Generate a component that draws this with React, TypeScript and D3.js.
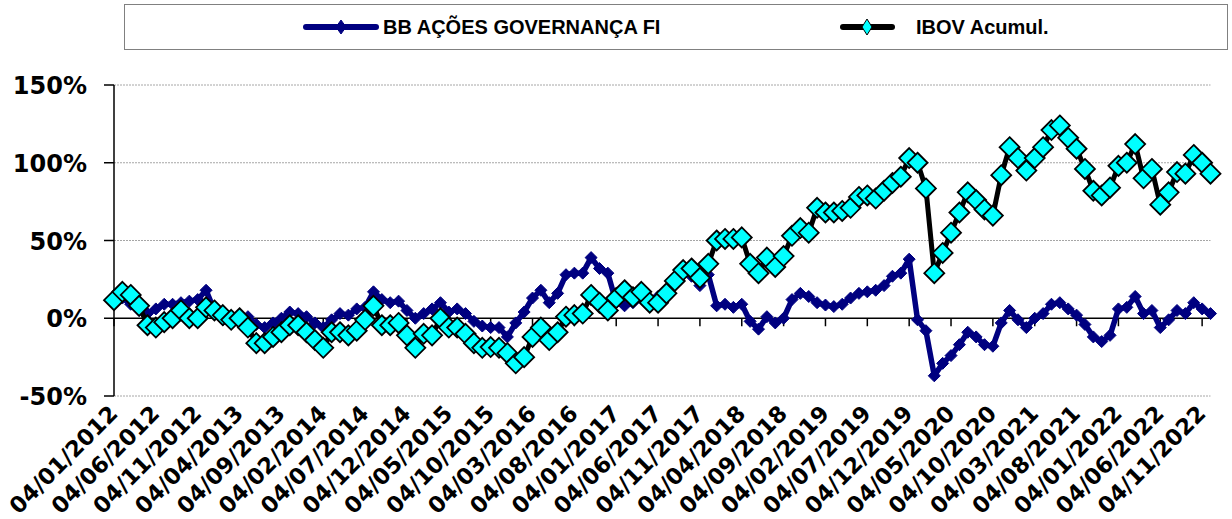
import React from 'react';
import * as d3 from 'd3';

// monthly categories, 04/01/2012 .. 04/12/2022
const categories = d3.range(132).map(i => d3.timeFormat('%d/%m/%Y')(new Date(2012, i, 4)));

const tickLabels = [
  '04/01/2012', '04/06/2012', '04/11/2012', '04/04/2013', '04/09/2013', '04/02/2014',
  '04/07/2014', '04/12/2014', '04/05/2015', '04/10/2015', '04/03/2016', '04/08/2016',
  '04/01/2017', '04/06/2017', '04/11/2017', '04/04/2018', '04/09/2018', '04/02/2019',
  '04/07/2019', '04/12/2019', '04/05/2020', '04/10/2020', '04/03/2021', '04/08/2021',
  '04/01/2022', '04/06/2022', '04/11/2022',
];

const yTicks = [150, 100, 50, 0, -50];

const seriesNames = ['BB AÇÕES GOVERNANÇA FI', 'IBOV Acumul.'];

// BB AÇÕES GOVERNANÇA FI (%)
const bbValues = [
  10, 13, 9, 5, 3, 6, 9, 9, 10, 11, 12, 18, 5, -1, -3, 0, 1, -4, -6, -3,
  0, 4, 3, 1, -3, -6, -1, 3, 2, 6, 7, 17, 12, 10, 11, 5, 0, 3, 6, 10,
  4, 6, 3, -2, -5, -6, -6, -12, -3, 4, 13, 18, 10, 16, 28, 29, 29, 39, 32, 29,
  10, 8, 10, 13, 11, 14, 18, 25, 30, 27, 21, 28, 8, 9, 7, 9, -2, -7, 1, -3,
  0, 12, 16, 14, 10, 8.5, 7.5, 9, 13, 16, 17, 18, 21, 27, 29, 38, -1, -8, -37, -29,
  -24, -17, -9, -12, -17, -18, -3, 5, -1, -6, 0, 3, 9, 10, 6, 2, -4, -12, -15, -11,
  6, 7, 14, 3, 5, -6, -1, 5, 3, 10, 6, 3,
];

// IBOV Acumul. (%)
const ibovValues = [
  11.6, 17, 15, 8, -4.5, -6, -2.5, 0, 5, 0, 0, 7, 5, 2, -1, 0, -6, -16, -16, -12,
  -9, -4.5, -4.5, -9, -14, -19, -9, -9, -11, -8, -1, 8, -4.5, -4.5, -3, -11, -19, -10, -11, 0,
  -6, -6, -10, -16, -19, -18.5, -19, -22.5, -29, -25, -12, -6, -14, -9, 1, 2, 3, 15, 10, 5,
  13, 18, 13.5, 17, 10, 10, 16, 24, 31, 32, 26, 35, 50, 51, 51, 52, 35, 29, 39, 33,
  40, 53, 58, 55, 71, 68, 68, 69, 71, 78, 79, 77, 82, 87, 91, 103, 100, 83.5, 29, 42,
  55, 68, 81, 76, 70, 66, 92, 110, 103, 95, 103, 110, 121, 124, 116, 109, 96, 82, 79, 84,
  98, 100, 112, 90, 96, 73, 81, 94, 93, 105, 100, 93,
];

const diamond = (r: number, rv = r) => `M0,${-rv}L${r},0L0,${rv}L${-r},0Z`;

export default function App() {
  const left = 114, right = 1210.5, top = 85, bottom = 396;

  const x = d3.scalePoint<string>().domain(categories).range([left, right]);
  const y = d3.scaleLinear().domain([-50, 150]).range([bottom, top]);

  const line = d3.line<number>()
    .x((_, i) => x(categories[i]) as number)
    .y(d => y(d));

  const axisFont = 'DejaVu Sans, Verdana, sans-serif';
  const legendFont = 'Liberation Sans, Arial, sans-serif';

  return (
    <svg width={1232} height={519} style={{ position: 'absolute', left: 0, top: 0, background: '#fff' }}>
      {/* legend */}
      <rect x={124.5} y={4.5} width={1103} height={45} fill="#fff" stroke="#808080" strokeWidth={1} />
      <g>
        <line x1={306} x2={376} y1={27} y2={27} stroke="#000080" strokeWidth={6} strokeLinecap="round" />
        <path d={diamond(5, 7)} transform="translate(341,27)" fill="#000080" stroke="#000080" />
        <text x={383} y={34} fontFamily={legendFont} fontWeight="bold" fontSize={20} fill="#000">{seriesNames[0]}</text>
      </g>
      <g>
        <line x1={843} x2={892} y1={27} y2={27} stroke="#000" strokeWidth={6} strokeLinecap="round" />
        <path d={diamond(5, 8)} transform="translate(867,27)" fill="#00ffff" stroke="#000" strokeWidth={1} />
        <text x={916} y={34} fontFamily={legendFont} fontWeight="bold" fontSize={20} fill="#000">{seriesNames[1]}</text>
      </g>

      {/* gridlines */}
      {yTicks.filter(v => v !== 0).map(v => (
        <line key={v} x1={left} x2={right} y1={y(v)} y2={y(v)} stroke="#a6a6a6" strokeWidth={1} strokeDasharray="2,1" />
      ))}

      {/* y axis */}
      <line x1={left} x2={left} y1={top} y2={bottom} stroke="#000" strokeWidth={1.5} />
      {yTicks.map(v => (
        <g key={v}>
          <line x1={left - 10} x2={left} y1={y(v)} y2={y(v)} stroke="#000" strokeWidth={1.5} />
          <text x={87} y={y(v) + 9} textAnchor="end" fontFamily={axisFont} fontWeight="bold" fontSize={24} fill="#000">
            {`${v}%`}
          </text>
        </g>
      ))}

      {/* x axis */}
      <line x1={left} x2={right} y1={y(0)} y2={y(0)} stroke="#000" strokeWidth={1.5} />
      {tickLabels.map(t => {
        const px = x(t) as number;
        return (
          <g key={t}>
            <line x1={px} x2={px} y1={y(0)} y2={y(0) + 8} stroke="#000" strokeWidth={1.5} />
            <text transform={`translate(${px + 5},415) rotate(-45)`} textAnchor="end" fontFamily={axisFont}
              fontWeight="bold" fontSize={22.5} fill="#000">{t}</text>
          </g>
        );
      })}

      {/* BB series */}
      <path d={line(bbValues) || ''} fill="none" stroke="#000080" strokeWidth={5.5} strokeLinejoin="round" />
      {bbValues.map((v, i) => (
        <path key={i} d={diamond(6)} transform={`translate(${x(categories[i])},${y(v)})`} fill="#000080" stroke="#000080" />
      ))}

      {/* IBOV series */}
      <path d={line(ibovValues) || ''} fill="none" stroke="#000" strokeWidth={5} strokeLinejoin="round" />
      {ibovValues.map((v, i) => (
        <path key={i} d={diamond(10)} transform={`translate(${x(categories[i])},${y(v)})`} fill="#00ffff" stroke="#000" strokeWidth={1.8} />
      ))}
    </svg>
  );
}
